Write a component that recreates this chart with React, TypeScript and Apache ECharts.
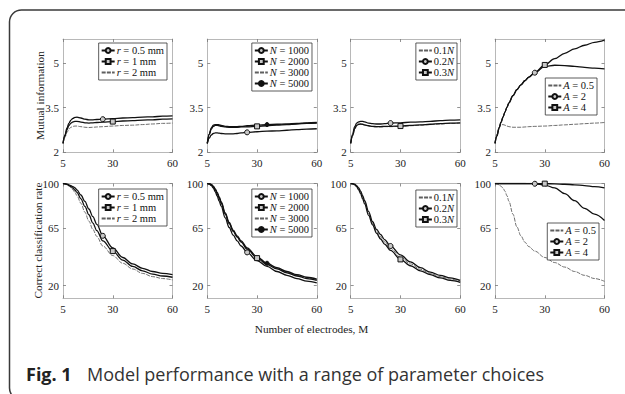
import { useEffect, useRef } from 'react';
import * as echarts from 'echarts';

// Shared x grid (number of electrodes, M)
const M = [5, 6, 7, 8, 9, 10, 11, 12, 14, 16, 18, 20, 22, 25, 30, 35, 40, 45, 50, 55, 60];
const xTicks = [5, 30, 60];
const miTicks = [2, 3.5, 5];
const ccrTicks = [20, 65, 100];

// Top row: mutual information
const miR05 = [2.30, 2.58, 2.82, 2.98, 3.08, 3.14, 3.17, 3.18, 3.15, 3.11, 3.09, 3.09, 3.10, 3.11, 3.13, 3.15, 3.16, 3.18, 3.19, 3.21, 3.22];
const miR1 = [2.30, 2.55, 2.76, 2.90, 2.98, 3.02, 3.04, 3.04, 3.01, 2.99, 2.98, 2.99, 3.00, 3.01, 3.03, 3.05, 3.06, 3.08, 3.09, 3.11, 3.12];
const miR2 = [2.30, 2.50, 2.67, 2.78, 2.84, 2.87, 2.88, 2.88, 2.86, 2.84, 2.83, 2.84, 2.85, 2.86, 2.88, 2.90, 2.91, 2.93, 2.95, 2.97, 2.98];

const miN1000 = [2.30, 2.48, 2.58, 2.63, 2.65, 2.65, 2.64, 2.63, 2.62, 2.62, 2.62, 2.63, 2.65, 2.67, 2.69, 2.71, 2.72, 2.74, 2.76, 2.78, 2.79];
const miN2000 = [2.30, 2.60, 2.78, 2.87, 2.90, 2.90, 2.89, 2.87, 2.85, 2.84, 2.84, 2.84, 2.85, 2.85, 2.87, 2.89, 2.91, 2.93, 2.95, 2.97, 2.98];
const miN3000 = [2.30, 2.61, 2.80, 2.89, 2.92, 2.92, 2.91, 2.89, 2.86, 2.85, 2.85, 2.85, 2.86, 2.87, 2.89, 2.91, 2.93, 2.94, 2.96, 2.98, 2.99];
const miN5000 = [2.30, 2.62, 2.82, 2.91, 2.93, 2.93, 2.92, 2.90, 2.87, 2.86, 2.86, 2.86, 2.87, 2.89, 2.91, 2.93, 2.94, 2.95, 2.97, 2.99, 3.00];

const miP01 = [2.30, 2.56, 2.78, 2.89, 2.93, 2.94, 2.93, 2.91, 2.88, 2.86, 2.85, 2.85, 2.86, 2.86, 2.87, 2.89, 2.91, 2.93, 2.95, 2.97, 2.98];
const miP02 = [2.30, 2.62, 2.86, 2.98, 3.02, 3.04, 3.04, 3.02, 2.98, 2.96, 2.95, 2.95, 2.96, 2.98, 2.99, 3.01, 3.02, 3.04, 3.06, 3.08, 3.09];
const miP03 = [2.30, 2.57, 2.79, 2.90, 2.94, 2.95, 2.94, 2.92, 2.89, 2.87, 2.86, 2.86, 2.87, 2.87, 2.88, 2.90, 2.92, 2.94, 2.96, 2.98, 2.99];

const miA05 = [2.30, 2.62, 2.84, 2.92, 2.93, 2.91, 2.88, 2.86, 2.84, 2.84, 2.84, 2.85, 2.86, 2.87, 2.88, 2.90, 2.92, 2.94, 2.96, 2.98, 3.00];
const miA2 = [2.30, 2.55, 2.80, 3.00, 3.18, 3.35, 3.51, 3.66, 3.90, 4.10, 4.26, 4.40, 4.52, 4.67, 4.88, 4.92, 4.91, 4.88, 4.85, 4.82, 4.80];
const miA4 = [2.30, 2.55, 2.80, 3.00, 3.18, 3.35, 3.51, 3.66, 3.90, 4.10, 4.26, 4.40, 4.52, 4.68, 4.93, 5.14, 5.32, 5.47, 5.59, 5.69, 5.76];

// Bottom row: correct classification rate
const ccR05 = [100, 99.8, 99.5, 99, 98.3, 97.5, 96.5, 95, 91, 86, 80, 74, 68, 59, 49.5, 42, 37, 33.5, 31, 29.5, 28.5];
const ccR1 = [100, 99.7, 99.3, 98.5, 97.5, 96.3, 94.8, 93, 88, 82, 75.5, 69, 63, 55, 47, 40, 35, 31.5, 29, 27.5, 26.5];
const ccR2 = [100, 99.6, 99, 98, 96.7, 95, 93, 90.5, 84.5, 77.5, 70.5, 64, 58.5, 51, 43.5, 37.5, 33, 29.5, 27, 25.5, 24.4];

const ccN1000 = [100, 99.6, 98.5, 96.5, 93.5, 90, 86, 82, 73, 65.5, 59.5, 55, 51, 46, 39.5, 35, 31, 28, 25.5, 23.5, 22];
const ccN2000 = [100, 99.7, 99, 97.5, 95, 92, 88.5, 84.5, 76, 68.5, 62.5, 58, 54, 48.5, 41.5, 36.5, 33, 30, 27.5, 25.5, 24];
const ccN3000 = [100, 99.8, 99.2, 97.8, 95.5, 92.5, 89, 85, 76.5, 69, 63, 58.5, 54.5, 49, 42, 37.2, 33.5, 30.5, 28, 26, 24.5];
const ccN5000 = [100, 99.8, 99.3, 98, 95.8, 93, 89.5, 85.5, 77, 69.5, 63.5, 59, 55, 49.5, 42.5, 37.5, 34, 31, 28.5, 26.5, 25];

const ccP01 = [100, 99.75, 99.2, 98, 95.8, 93, 89.3, 85.3, 76.5, 68.8, 62.5, 58.2, 54.2, 49.2, 42.2, 37, 32.7, 29.5, 27, 25, 23.3];
const ccP02 = [100, 99.8, 99.4, 98.4, 96.5, 94, 90.5, 86.5, 78, 70, 64, 60, 56, 51, 44, 38.5, 34, 30.5, 28, 26, 24];
const ccP03 = [100, 99.7, 99, 97.5, 95, 92, 88, 84, 75, 67.5, 61, 56.5, 52.5, 47.5, 40.5, 35.5, 31.5, 28.5, 26, 24, 22.5];

const ccA05 = [100, 99.7, 99, 97.8, 96.5, 94, 90.5, 86, 76, 66, 59, 54, 50.5, 47, 42, 38, 34.5, 31, 28, 25.5, 23.3];
const ccA2 = [100, 100, 100, 100, 100, 100, 100, 100, 100, 100, 100, 100, 99.9, 99.8, 98.8, 96.5, 92, 86.5, 80.5, 76, 71];
const ccA4 = [100, 100, 100, 100, 100, 100, 100, 100, 100, 100, 100, 100, 100, 100, 99.9, 99.7, 99.4, 99, 98.3, 97.5, 96.5];

type Mk = 'circle' | 'rect' | 'dot' | undefined;
type Spec = { name: string; values: number[]; dashed?: boolean; marker?: Mk; markerX?: number };

const rNames = ['r = 0.5 mm', 'r = 1 mm', 'r = 2 mm'];
const nNames = ['N = 1000', 'N = 2000', 'N = 3000', 'N = 5000'];
const pNames = ['0.1N', '0.2N', '0.3N'];
const aNames = ['A = 0.5', 'A = 2', 'A = 4'];

const topPanels: Spec[][] = [
  [
    { name: rNames[0], values: miR05, marker: 'circle', markerX: 25 },
    { name: rNames[1], values: miR1, marker: 'rect', markerX: 30 },
    { name: rNames[2], values: miR2, dashed: true },
  ],
  [
    { name: nNames[0], values: miN1000, marker: 'circle', markerX: 25 },
    { name: nNames[1], values: miN2000, marker: 'rect', markerX: 30 },
    { name: nNames[2], values: miN3000, dashed: true },
    { name: nNames[3], values: miN5000, marker: 'dot', markerX: 35 },
  ],
  [
    { name: pNames[0], values: miP01, dashed: true },
    { name: pNames[1], values: miP02, marker: 'circle', markerX: 25 },
    { name: pNames[2], values: miP03, marker: 'rect', markerX: 30 },
  ],
  [
    { name: aNames[0], values: miA05, dashed: true },
    { name: aNames[1], values: miA2, marker: 'circle', markerX: 25 },
    { name: aNames[2], values: miA4, marker: 'rect', markerX: 30 },
  ],
];

const bottomPanels: Spec[][] = [
  [
    { name: rNames[0], values: ccR05, marker: 'circle', markerX: 25 },
    { name: rNames[1], values: ccR1, marker: 'rect', markerX: 30 },
    { name: rNames[2], values: ccR2, dashed: true },
  ],
  [
    { name: nNames[0], values: ccN1000, marker: 'circle', markerX: 25 },
    { name: nNames[1], values: ccN2000, marker: 'rect', markerX: 30 },
    { name: nNames[2], values: ccN3000, dashed: true },
    { name: nNames[3], values: ccN5000, marker: 'dot', markerX: 35 },
  ],
  [
    { name: pNames[0], values: ccP01, dashed: true },
    { name: pNames[1], values: ccP02, marker: 'circle', markerX: 25 },
    { name: pNames[2], values: ccP03, marker: 'rect', markerX: 30 },
  ],
  [
    { name: aNames[0], values: ccA05, dashed: true },
    { name: aNames[1], values: ccA2, marker: 'circle', markerX: 25 },
    { name: aNames[2], values: ccA4, marker: 'rect', markerX: 30 },
  ],
];

const SERIF = '"Liberation Serif", "Times New Roman", serif';
const SANS = '"Open Sans", "Noto Sans", sans-serif';

const colLeft = [63, 207.3, 350.7, 495];
const gridW = 109.5;
const rowTop = [39, 183.5];
const rowH = [113.3, 114.8];
const legendPos = [
  [{ right: 458, top: 43 }, { right: 313, top: 43 }, { right: 168, top: 43 }, { right: 28, top: 78 }],
  [{ right: 458, top: 189 }, { right: 313, top: 189 }, { right: 168, top: 190 }, { right: 26, top: 223 }],
];

function legendLabel(name: string) {
  if (/^[rNA] /.test(name)) return '{i|' + name[0] + '}' + name.slice(1);
  if (/N$/.test(name)) return name.slice(0, -1) + '{i|N}';
  return name;
}

function buildSeries(spec: Spec, axisIndex: number) {
  const data = M.map((m, i) =>
    spec.marker && m === spec.markerX ? [m, spec.values[i]] : { value: [m, spec.values[i]], symbol: 'none' }
  );
  const symbol = spec.marker === 'rect' ? 'rect' : spec.marker ? 'circle' : 'none';
  const hidden = 'rgba(0,0,0,0)';
  return {
    type: 'line',
    name: spec.name,
    xAxisIndex: axisIndex,
    yAxisIndex: axisIndex,
    data,
    smooth: 0.35,
    smoothMonotone: 'x',
    symbol,
    symbolSize: spec.marker === 'dot' ? 4 : 5,
    showSymbol: true,
    showAllSymbol: true,
    silent: true,
    z: spec.dashed ? 2 : 3,
    lineStyle: spec.dashed
      ? { color: '#5f5f5f', width: 0.9, type: [4, 1.2] }
      : { color: '#111', width: 1.3, type: 'solid' },
    itemStyle: spec.marker
      ? { color: spec.marker === 'dot' ? '#111' : '#c8c8c8', borderColor: '#111', borderWidth: 1 }
      : { color: hidden, borderColor: hidden, borderWidth: 0 },
    emphasis: { disabled: true },
  };
}

export default function App() {
  const ref = useRef<HTMLDivElement>(null);
  useEffect(() => {
    if (!ref.current) return;
    const chart = echarts.init(ref.current, undefined, { renderer: 'svg' });
    const grids: any[] = [];
    const xAxes: any[] = [];
    const yAxes: any[] = [];
    const series: any[] = [];
    const legends: any[] = [];
    const axisLineStyle = { color: '#b8b8b8', width: 1 };
    const tickStyle = { color: '#777', width: 0.8 };
    [topPanels, bottomPanels].forEach((row, r) => {
      row.forEach((specs, c) => {
        const g = grids.length;
        grids.push({ left: colLeft[c], top: rowTop[r], width: gridW, height: rowH[r], containLabel: false });
        const yMin = r === 0 ? 2 : 10;
        const yMax = r === 0 ? 5.8 : 100;
        const yTicks = r === 0 ? miTicks : ccrTicks;
        xAxes.push({
          type: 'value', gridIndex: g, min: 5, max: 60, position: 'bottom',
          axisLine: { onZero: false, lineStyle: axisLineStyle },
          axisTick: { inside: true, length: 3, customValues: xTicks, lineStyle: tickStyle },
          axisLabel: { customValues: xTicks, fontFamily: SERIF, fontSize: 11, color: '#222', margin: 5 },
          splitLine: { show: false },
        });
        xAxes.push({
          type: 'value', gridIndex: g, min: 5, max: 60, position: 'top',
          axisLine: { onZero: false, lineStyle: axisLineStyle },
          axisTick: { inside: true, length: 3, customValues: xTicks, lineStyle: tickStyle },
          axisLabel: { show: false },
          splitLine: { show: false },
        });
        yAxes.push({
          type: 'value', gridIndex: g, min: yMin, max: yMax, position: 'left',
          axisLine: { onZero: false, lineStyle: axisLineStyle },
          axisTick: { inside: true, length: 3, customValues: yTicks, lineStyle: tickStyle },
          axisLabel: { customValues: yTicks, fontFamily: SERIF, fontSize: 11, color: '#222', margin: 4 },
          splitLine: { show: false },
        });
        yAxes.push({
          type: 'value', gridIndex: g, min: yMin, max: yMax, position: 'right',
          axisLine: { onZero: false, lineStyle: axisLineStyle },
          axisTick: { inside: true, length: 3, customValues: yTicks, lineStyle: tickStyle },
          axisLabel: { show: false },
          splitLine: { show: false },
        });
        specs.forEach((s) => series.push(buildSeries(s, g * 2)));
        legends.push({
          ...legendPos[r][c],
          orient: 'vertical',
          data: specs.map((s) => s.name),
          selectedMode: false,
          itemWidth: 13,
          itemHeight: 6,
          itemGap: 0,
          padding: [2, 3, 2, 2],
          borderColor: '#333',
          borderWidth: 0.8,
          borderRadius: 0,
          backgroundColor: '#fff',
          formatter: (n: string) => legendLabel(n),
          textStyle: {
            fontFamily: SERIF, fontSize: 10.5, color: '#111', lineHeight: 10, padding: [0, 0, 0, -3],
            rich: { i: { fontFamily: SERIF, fontSize: 10.5, fontStyle: 'italic', color: '#111', lineHeight: 10 } },
          },
        });
      });
    });

    chart.setOption({
      animation: false,
      backgroundColor: '#fff',
      grid: grids,
      xAxis: xAxes,
      yAxis: yAxes,
      series,
      legend: legends,
      graphic: [
        {
          type: 'rect', silent: true,
          shape: { x: 9.5, y: 10, width: 900, height: 390, r: [12, 0, 0, 12] },
          style: { fill: 'none', stroke: '#3a3a3a', lineWidth: 1.5 },
        },
        {
          type: 'text', x: 40, y: 95.5, rotation: Math.PI / 2, silent: true,
          style: { text: 'Mutual information', font: '11.3px ' + SERIF, fill: '#222', textAlign: 'center', textVerticalAlign: 'middle' },
        },
        {
          type: 'text', x: 38, y: 240.5, rotation: Math.PI / 2, silent: true,
          style: { text: 'Correct classification rate', font: '11.3px ' + SERIF, fill: '#222', textAlign: 'center', textVerticalAlign: 'middle' },
        },
        {
          type: 'text', x: 311.5, y: 329, silent: true,
          style: { text: 'Number of electrodes, M', font: '11.3px ' + SERIF, fill: '#222', textAlign: 'center', textVerticalAlign: 'middle' },
        },
        {
          type: 'text', x: 26, y: 374, silent: true,
          style: { text: 'Fig. 1', font: 'bold 18px ' + SANS, fill: '#222', textAlign: 'left', textVerticalAlign: 'middle' },
        },
        {
          type: 'text', x: 87, y: 374, silent: true,
          style: { text: 'Model performance with a range of parameter choices', font: '18px ' + SANS, fill: '#333', textAlign: 'left', textVerticalAlign: 'middle' },
        },
      ],
    });
    return () => chart.dispose();
  }, []);
  return <div ref={ref} style={{ position: 'fixed', left: 0, top: 0, width: 625, height: 394 }} />;
}
